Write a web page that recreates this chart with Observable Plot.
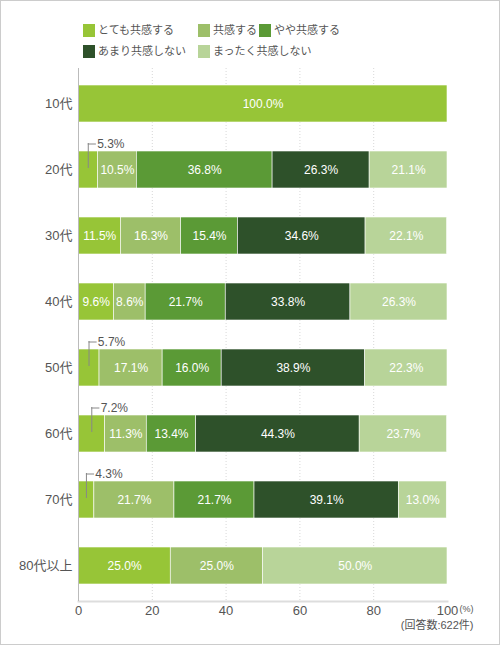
<!DOCTYPE html>
<html>
<head>
<meta charset="utf-8">
<script src="https://cdn.jsdelivr.net/npm/d3@7"></script>
<script src="https://cdn.jsdelivr.net/npm/@observablehq/plot@0.6"></script>
<style>
  body { margin: 0; background: #fff; }
  #wrap {
    position: relative; width: 500px; height: 645px; box-sizing: border-box;
    border: 1px solid #ccc; overflow: hidden;
    font-family: "Liberation Sans", "Noto Sans CJK JP", sans-serif; color: #555;
  }
  #legend {
    height: 59px; box-sizing: border-box; padding: 20px 0 0 82px;
    display: grid; grid-template-columns: 115px 61px auto; row-gap: 3px;
    font-size: 11px; line-height: 13px;
  }
  #legend span { white-space: nowrap; display: flex; align-items: center; }
  #legend i { display: inline-block; flex-shrink: 0; width: 12px; height: 13px; margin-right: 3px; }
  #chart svg { display: block; }
</style>
</head>
<body>
<div id="wrap">
  <div id="legend"></div>
  <div id="chart"></div>
</div>
<script>
const ages = ["10代", "20代", "30代", "40代", "50代", "60代", "70代", "80代以上"];
const cats = ["とても共感する", "共感する", "やや共感する", "あまり共感しない", "まったく共感しない"];
const colors = ["#97c537", "#9dbf69", "#5b9a36", "#2e512a", "#b8d499"];

const veryMuch = [100, 5.3, 11.5, 9.6, 5.7, 7.2, 4.3, 25.0];
const agree    = [0, 10.5, 16.3, 8.6, 17.1, 11.3, 21.7, 25.0];
const somewhat = [0, 36.8, 15.4, 21.7, 16.0, 13.4, 21.7, 0];
const notMuch  = [0, 26.3, 34.6, 33.8, 38.9, 44.3, 39.1, 0];
const notAtAll = [0, 21.1, 22.1, 26.3, 22.3, 23.7, 13.0, 50.0];
const xTicks = [0, 20, 40, 60, 80, 100];

const series = [veryMuch, agree, somewhat, notMuch, notAtAll];

// stacked rows
let rows = [];
ages.forEach((age, i) => {
  let cum = 0;
  series.forEach((s, j) => {
    const v = s[i];
    if (v > 0) rows.push({age, cat: cats[j], v, x1: cum, x2: cum + v, mid: cum + v / 2});
    cum += v;
  });
});
const inside = rows.filter(d => d.v >= 8);
const small = rows.filter(d => d.v < 8);

// legend (html)
const legend = d3.select("#legend");
cats.forEach((c, j) => {
  const item = legend.append("span");
  if (j === 3) item.style("grid-column", "1");
  item.append("i").style("background", colors[j]);
  item.append("b").style("font-weight", "normal").text(c);
});

const font = "'Liberation Sans', 'Noto Sans CJK JP', sans-serif";

let chart = Plot.plot({
  width: 498,
  height: 585,
  marginTop: 8,
  marginBottom: 44,
  marginLeft: 77,
  marginRight: 52,
  x: {domain: [0, 100], ticks: xTicks, label: null},
  y: {domain: ages, paddingInner: 0.44, paddingOuter: 0.22, label: null},
  color: {domain: cats, range: colors},
  style: {fontFamily: font, color: "#555", background: "white"},
  marks: [
    Plot.ruleX(xTicks.slice(1, 5), {stroke: "#d8d8d8", strokeDasharray: "1,2"}),
    Plot.barX(rows, {x1: "x1", x2: "x2", y: "age", fill: "cat", stroke: "white", strokeWidth: 0.6}),
    Plot.text(inside, {x: "mid", y: "age", text: d => d.v.toFixed(1) + "%", fill: "white", fontSize: 12}),
    // callouts for small slices
    Plot.tickX(small, {x: "mid", y: "age", stroke: "#888", insetTop: -8, insetBottom: 20}),
    Plot.ruleY(small, {y: "age", x1: "mid", x2: d => d.mid + 2.2, stroke: "#888", dy: -26}),
    Plot.text(small, {x: d => d.mid + 2.4, y: "age", dy: -26, text: d => d.v.toFixed(1) + "%",
      textAnchor: "start", fill: "#555", fontSize: 12}),
    Plot.frame({anchor: "bottom", stroke: "#ddd", strokeWidth: 2}),
    Plot.ruleX([0], {stroke: "#bbb"}),
    Plot.axisX({ticks: xTicks, tickSize: 0, tickPadding: 4, fontSize: 13, fill: "#555"}),
    Plot.axisY({tickSize: 0, tickPadding: 6, fontSize: 13, fill: "#555"}),
    Plot.text(["(%)"], {x: () => 100, frameAnchor: "bottom", dx: 12, dy: 10, textAnchor: "start",
      fontSize: 9, fill: "#555"}),
    Plot.text(["(回答数:622件)"], {x: () => 100, frameAnchor: "bottom", dx: 26, dy: 27, textAnchor: "end",
      fontSize: 11, fill: "#555"})
  ]
});
d3.select("#chart").append(() => chart);
</script>
</body>
</html>
